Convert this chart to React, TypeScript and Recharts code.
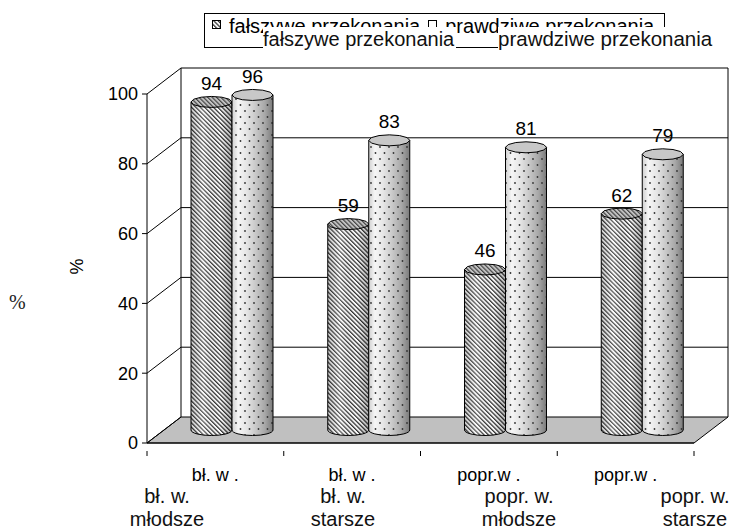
import React from "react"
import { BarChart, Bar, XAxis, YAxis, CartesianGrid, LabelList } from "recharts"

// values
const categories = ["bł. w .", "bł. w .", "popr.w .", "popr.w ."]
const falszywe = [94, 59, 46, 62]
const prawdziwe = [96, 83, 81, 79]
const yTicks = [0, 20, 40, 60, 80, 100]
const lowerLabels = [
  ["bł. w.", "młodsze"],
  ["bł. w.", "starsze"],
  ["popr. w.", "młodsze"],
  ["popr. w.", "starsze"],
]
const seriesNames = ["fałszywe przekonania", "prawdziwe przekonania"]

const data = categories.map((c, i) => ({ cat: c, f: falszywe[i], p: prawdziwe[i] }))

const FONT = "'Liberation Sans', Arial, sans-serif"
const W = 729
const H = 532
// front plane of the 3d box
const LEFT = 147
const TOP = 94
const RIGHT = 694
const BOTTOM = 443
// depth of the box, bars stand half way in
const DX = 34
const DY = 26
const MX = DX / 2
const MY = DY / 2
const BAND = (RIGHT - LEFT) / categories.length

function capPoints(cx: number, cy: number, rx: number, ry: number) {
  // excel draws the caps as a coarse polygon
  const n = 12
  const pts: string[] = []
  for (let i = 0; i < n; i++) {
    const a = (i / n) * Math.PI * 2
    pts.push(`${cx + rx * Math.cos(a)},${cy + ry * Math.sin(a)}`)
  }
  return pts.join(" ")
}

function Cylinder(props: any) {
  const { x, y, width, height, kind } = props
  if (height == null || width == null) return null
  const left = x + MX
  const right = x + width + MX
  const rx = width / 2
  const cx = left + rx
  const ry = 5.5
  const top = y - MY
  const bot = y + height - MY
  const body = `M${left},${top} L${left},${bot} A${rx},${ry} 0 0 0 ${right},${bot} L${right},${top} Z`
  if (kind === "f") {
    return (
      <g>
        <path d={body} fill="url(#hatch)" />
        <path d={body} fill="url(#shadeH)" stroke="#000" strokeWidth={1} />
        <polygon points={capPoints(cx, top, rx, ry)} fill="url(#hatchTop)" stroke="#000" strokeWidth={1} />
      </g>
    )
  }
  return (
    <g>
      <path d={body} fill="url(#shadeD)" />
      <path d={body} fill="url(#dots)" stroke="#000" strokeWidth={1} />
      <polygon points={capPoints(cx, top, rx, ry)} fill="#c8c8c8" stroke="#000" strokeWidth={1} />
    </g>
  )
}

function GridLine(props: any) {
  const { x1, x2, y1 } = props
  const bx1 = x1 + DX
  const bx2 = x2 + DX
  const by = y1 - DY
  const isFloor = Math.abs(y1 - BOTTOM) < 1
  const isTop = Math.abs(y1 - TOP) < 1
  return (
    <g>
      {isFloor && (
        <polygon
          points={`${x1},${y1} ${x2},${y1} ${bx2},${by} ${bx1},${by}`}
          fill="#c0c0c0"
          stroke="#000"
          strokeWidth={1}
        />
      )}
      {isTop && (
        <g stroke="#000" strokeWidth={1}>
          <line x1={bx1} y1={by} x2={bx1} y2={BOTTOM - DY} />
          <line x1={bx2} y1={by} x2={bx2} y2={BOTTOM - DY} />
        </g>
      )}
      <line x1={x1} y1={y1} x2={bx1} y2={by} stroke="#000" strokeWidth={1} />
      {!isFloor && <line x1={bx1} y1={by} x2={bx2} y2={by} stroke="#000" strokeWidth={1} />}
    </g>
  )
}

function CatTick(props: any) {
  const { x, y, payload, index } = props
  return (
    <g>
      <line x1={x - BAND / 2} y1={y} x2={x - BAND / 2} y2={y + 5} stroke="#000" />
      {index === categories.length - 1 && (
        <line x1={x + BAND / 2} y1={y} x2={x + BAND / 2} y2={y + 5} stroke="#000" />
      )}
      <text x={x} y={y + 30} textAnchor="middle" fontSize={18} fontFamily={FONT} fill="#000">
        {payload.value}
      </text>
    </g>
  )
}

function ValueLabel(props: any) {
  const { x, y, width, value } = props
  return (
    <text x={x + width / 2 + MX} y={y - MY - 12} textAnchor="middle" fontSize={19} fontFamily={FONT} fill="#000">
      {value}
    </text>
  )
}

function Swatch({ kind }: { kind: string }) {
  return (
    <svg width={9} height={9} style={{ marginRight: 8, marginTop: 5 }}>
      <rect x={0.5} y={0.5} width={8} height={8} fill={kind === "f" ? "url(#hatch)" : "#fff"} stroke="#000" />
    </svg>
  )
}

export default function App() {
  return (
    <div style={{ position: "absolute", left: 0, top: 0, width: W, height: H, background: "#fff", overflow: "hidden" }}>
      <BarChart
        width={W}
        height={H}
        data={data}
        margin={{ top: TOP, right: W - RIGHT, left: LEFT - 60, bottom: H - BOTTOM - 30 }}
        barGap={0}
        barSize={41}
      >
        <defs>
          <pattern id="hatch" width={3.1} height={3.1} patternUnits="userSpaceOnUse" patternTransform="rotate(-45)">
            <rect width={3.1} height={3.1} fill="#fff" />
            <rect width={1.25} height={3.1} fill="#333" />
          </pattern>
          <pattern id="hatchTop" width={3.1} height={3.1} patternUnits="userSpaceOnUse" patternTransform="rotate(-45)">
            <rect width={3.1} height={3.1} fill="#c4c4c4" />
            <rect width={1.2} height={3.1} fill="#444" />
          </pattern>
          <linearGradient id="shadeH" x1="0" y1="0" x2="1" y2="0">
            <stop offset="0" stopColor="#000" stopOpacity={0.2} />
            <stop offset="0.3" stopColor="#fff" stopOpacity={0.2} />
            <stop offset="0.7" stopColor="#000" stopOpacity={0} />
            <stop offset="1" stopColor="#000" stopOpacity={0.3} />
          </linearGradient>
          <linearGradient id="shadeD" x1="0" y1="0" x2="1" y2="0">
            <stop offset="0" stopColor="#d0d0d0" />
            <stop offset="0.15" stopColor="#f6f6f6" />
            <stop offset="0.35" stopColor="#e6e6e6" />
            <stop offset="0.55" stopColor="#cccccc" />
            <stop offset="0.8" stopColor="#a8a8a8" />
            <stop offset="1" stopColor="#7a7a7a" />
          </linearGradient>
          <pattern id="dots" width={9} height={12} patternUnits="userSpaceOnUse">
            <circle cx={2} cy={3} r={0.9} fill="#333" />
            <circle cx={6.5} cy={9} r={0.9} fill="#333" />
          </pattern>
        </defs>
        <CartesianGrid vertical={false} horizontal={GridLine} stroke="#000" />
        <XAxis
          dataKey="cat"
          height={30}
          axisLine={{ stroke: "#000" }}
          tickLine={false}
          tick={CatTick}
          interval={0}
        />
        <YAxis
          width={60}
          domain={[0, 100]}
          ticks={yTicks}
          axisLine={{ stroke: "#000" }}
          tickLine={{ stroke: "#000" }}
          tickSize={5}
          tickMargin={4}
          tick={{ fontSize: 18, fontFamily: FONT, fill: "#000" }}
          label={(p: any) => {
            const vb = p.viewBox || {}
            const lx = 77
            const ly = (vb.y ?? TOP) + (vb.height ?? BOTTOM - TOP) / 2 - 2
            return (
              <text x={lx} y={ly} transform={`rotate(-90 ${lx} ${ly})`} textAnchor="middle" dominantBaseline="central" fontSize={18} fontFamily={FONT} fill="#000">
                %
              </text>
            )
          }}
        />
        <Bar dataKey="f" name={seriesNames[0]} isAnimationActive={false} shape={(p: any) => <Cylinder {...p} kind="f" />}>
          <LabelList dataKey="f" content={ValueLabel} />
        </Bar>
        <Bar dataKey="p" name={seriesNames[1]} isAnimationActive={false} shape={(p: any) => <Cylinder {...p} kind="p" />}>
          <LabelList dataKey="p" content={ValueLabel} />
        </Bar>
      </BarChart>

      {/* legend box, half covered by the overlaid titles */}
      <div
        style={{
          position: "absolute",
          left: 204,
          top: 13,
          width: 461,
          height: 35,
          border: "1px solid #000",
          boxSizing: "border-box",
          fontFamily: FONT,
          fontSize: 20,
          whiteSpace: "nowrap",
          overflow: "hidden",
          display: "flex",
          alignItems: "flex-start",
          paddingLeft: 7,
          paddingTop: 1,
          lineHeight: "22px",
        }}
      >
        <Swatch kind="f" />
        <span style={{ marginRight: 8 }}>{seriesNames[0]}</span>
        <Swatch kind="p" />
        <span>{seriesNames[1]}</span>
      </div>
      <div style={{ position: "absolute", left: 263, top: 27, background: "#fff", fontFamily: FONT, fontSize: 20, lineHeight: "24px", paddingRight: 2, color: "#111" }}>
        {seriesNames[0]}
      </div>
      <div style={{ position: "absolute", left: 498, top: 27, background: "#fff", fontFamily: FONT, fontSize: 20.5, lineHeight: "24px", color: "#111" }}>
        {seriesNames[1]}
      </div>

      {/* serif percent sign on the far left */}
      <div style={{ position: "absolute", left: 9, top: 291, fontFamily: "'Liberation Serif', serif", fontSize: 20, color: "#222" }}>%</div>

      {/* second row of category names */}
      {lowerLabels.map((lines, i) => (
        <div
          key={i}
          style={{
            position: "absolute",
            left: 167 + i * 176 - 60,
            top: 485,
            width: 120,
            textAlign: "center",
            fontFamily: FONT,
            fontSize: 20,
            lineHeight: "23px",
            color: "#111",
            whiteSpace: "nowrap",
          }}
        >
          <div>{lines[0]}</div>
          <div>{lines[1]}</div>
        </div>
      ))}
    </div>
  )
}
